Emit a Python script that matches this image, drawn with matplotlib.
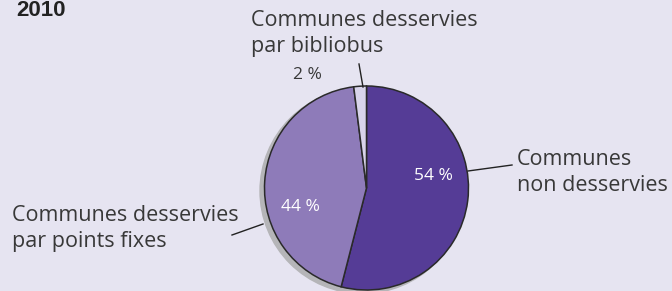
import matplotlib
matplotlib.use("Agg")
import matplotlib.pyplot as plt
from matplotlib.patches import Circle

# data
labels = ["Communes\nnon desservies", "Communes desservies\npar points fixes", "Communes desservies\npar bibliobus"]
shares = [54, 44, 2]
pct_labels = ["54 %", "44 %", "2 %"]
colors = ["#553c96", "#8e7bb9", "#d8d4ea"]
year = "2010"

bg = "#e6e4f1"
W, H = 672, 291

fig = plt.figure(figsize=(W / 100, H / 100), dpi=100, facecolor=bg)
ax = fig.add_axes([0, 0, 1, 1])
ax.set_facecolor(bg)

cx, cy, r = 366.5, H - 188, 102

# drop shadow
ax.add_patch(Circle((cx - 4, cy - 3), r + 0.5, color="#b5b5b8", zorder=1))

ax.pie(shares, colors=colors, startangle=90, counterclock=False,
       radius=r, center=(cx, cy), frame=True,
       wedgeprops=dict(edgecolor="#2a2a2a", linewidth=1.1, zorder=2))
ax.set_xlim(0, W)
ax.set_ylim(0, H)
ax.set_aspect("equal")
ax.axis("off")

font = "Open Sans"
tc = "#383838"

# percentages
ax.text(433, H - 176, pct_labels[0], color="white", fontsize=12.5, family=font,
        ha="center", va="center", zorder=5)
ax.text(300, H - 207, pct_labels[1], color="white", fontsize=12.5, family=font,
        ha="center", va="center", zorder=5)
ax.text(307, H - 75, pct_labels[2], color=tc, fontsize=12.5, family=font,
        ha="center", va="center", zorder=5)

# category labels, one text per line (x, first baseline)
spots = [(517, 165), (12, 221), (251, 26)]
for lab, (x, y0) in zip(labels, spots):
    for i, line in enumerate(lab.split("\n")):
        ax.text(x, H - (y0 + 26 * i), line, color=tc, fontsize=15.5,
                family=font, ha="left", va="baseline")

# leader lines
lc = "#222222"
ax.plot([468, 512], [H - 171, H - 165], color=lc, lw=1, zorder=4)
ax.plot([232, 263], [H - 235, H - 224], color=lc, lw=1, zorder=4)
ax.plot([359, 363], [H - 64, H - 87], color=lc, lw=1, zorder=4)

# year
ax.text(16, H - 16, year, color="#222222", fontsize=16, fontweight="bold",
        family="Liberation Sans", ha="left", va="baseline")

fig.savefig("out.png", dpi=100, facecolor=bg)
